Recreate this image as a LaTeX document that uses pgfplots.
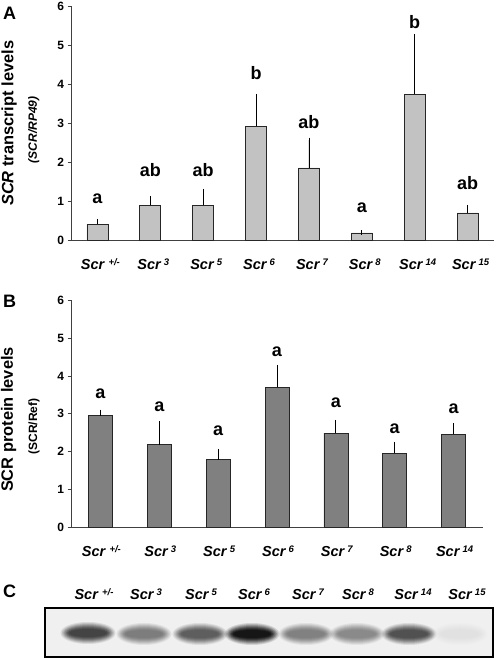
\documentclass[border=0pt]{standalone}
\usepackage{fontspec}
\setmainfont{Liberation Sans}
\usepackage{pgfplots}
\pgfplotsset{compat=1.18}
\usepackage{pgfplotstable}

\definecolor{barA}{gray}{0.76}
\definecolor{barB}{gray}{0.50}
\colorlet{bgcol}{black!6}

\newcommand\scr[1]{{\fontsize{14.5}{16}\selectfont\bfseries\itshape Scr\/\kern2.5pt\raisebox{4pt}{\fontsize{9.5}{10}\selectfont #1}}}

% Panel A: SCR transcript levels (mean, error)
\pgfplotstableread{
x y e
0 0.42 0.07
1 0.90 0.17
2 0.90 0.36
3 2.92 0.77
4 1.86 0.71
5 0.20 0.01
6 3.75 1.47
7 0.71 0.14
}\transcript
\pgfplotstableread{
x y l
0 0.94 a
1 1.64 ab
2 1.64 ab
3 4.11 b
4 2.88 ab
5 0.73 a
6 5.43 b
7 1.30 ab
}\lettersA
% Panel B: SCR protein levels
\pgfplotstableread{
x y e
0 2.95 0.09
1 2.19 0.55
2 1.79 0.22
3 3.70 0.52
4 2.49 0.28
5 1.96 0.23
6 2.46 0.23
}\protein
\pgfplotstableread{
x y l
0 3.41 a
1 3.06 a
2 2.42 a
3 4.50 a
4 3.17 a
5 2.47 a
6 3.02 a
}\lettersB
% Panel C: blot band positions and darkness (percent black)
\pgfplotstableread{
x y k
88 24 78
144 23 52
200 23 66
252 23 100
306 23 50
357 23 46
409 23 72
460 23 6
}\blot

\pgfplotsset{
  panel/.style={
    scale only axis,
    axis x line=bottom, axis y line=left,
    axis line style={-, black!75, line width=0.8pt},
    ymin=0, ymax=6, ytick={0,...,6},
    tick align=outside, major tick length=3.5pt,
    ytick style={black!75, line width=0.8pt},
    xtick style={draw=none},
    /pgf/number format/assume math mode=true,
    yticklabel style={font=\fontsize{12}{13}\selectfont\bfseries},
    clip=false,
  },
  bars/.style={ybar, bar shift=0pt, draw=black!85, line width=0.7pt,
    error bars/y dir=plus, error bars/y explicit,
    error bars/error bar style={black, line width=0.8pt},
    error bars/error mark options={black, line width=0.8pt, mark size=2.6pt}},
  letters/.style={draw=none, mark=none, nodes near coords, point meta=explicit symbolic,
    every node near coord/.style={anchor=base, inner sep=0pt, font=\fontsize{18}{20}\selectfont\bfseries}},
  bandlayer/.style n args={3}{scatter, only marks, mark=*, point meta=explicit,
    scatter/use mapped color={fill=mapped color, draw opacity=0, line width=0pt},
    mark size=#1, mark options={xscale=#2, fill opacity=#3, draw opacity=0}},
}

\begin{document}
\begin{tikzpicture}
\useasboundingbox (0,0) rectangle (498pt,660pt);

% ---------- Panel A ----------
\begin{axis}[panel,
  at={(71pt,419.3pt)}, anchor=south west,
  width=423pt, height=234.7pt,
  xmin=-0.5, xmax=7.5,
  xtick={0,...,7},
  xticklabels={\scr{\kern1pt+/-},\scr{3},\scr{5},\scr{6},\scr{7},\scr{8},\scr{14},\scr{15}},
  xticklabel style={anchor=base, yshift=-25.5pt, xshift=3pt},
  ylabel={\textit{SCR} transcript levels},
  ylabel style={font=\fontsize{16.4}{18}\selectfont\bfseries, inner sep=0pt,
    at={(axis description cs:-0.136,0.5)}, anchor=base},
]
\addplot[bars, fill=barA, bar width=21pt] table[x=x, y=y, y error=e] {\transcript};
\addplot[letters] table[x=x, y=y, meta=l] {\lettersA};
\node[rotate=90, anchor=base, inner sep=0pt, font=\fontsize{12}{13}\selectfont\bfseries\itshape]
  at (axis description cs:-0.0804,0.472) {(SCR/RP49)};
\end{axis}

% ---------- Panel B ----------
\begin{axis}[panel,
  at={(71pt,132.3pt)}, anchor=south west,
  width=412pt, height=227.7pt,
  xmin=-0.5, xmax=6.5,
  xtick={0,...,6},
  xticklabels={\scr{\kern1pt+/-},\scr{3},\scr{5},\scr{6},\scr{7},\scr{8},\scr{14}},
  xticklabel style={anchor=base, yshift=-25.5pt, xshift=1pt},
  ylabel={SCR protein levels},
  ylabel style={font=\fontsize{16.4}{18}\selectfont\bfseries, inner sep=0pt,
    at={(axis description cs:-0.1408,0.475)}, anchor=base},
]
\addplot[bars, fill=barB, bar width=24pt] table[x=x, y=y, y error=e] {\protein};
\addplot[letters] table[x=x, y=y, meta=l] {\lettersB};
\node[rotate=90, anchor=base, inner sep=0pt, font=\fontsize{12}{13}\selectfont\bfseries]
  at (axis description cs:-0.0825,0.444) {(SCR/Ref)};
\end{axis}

% ---------- Panel C (blot) ----------
\begin{axis}[
  scale only axis,
  at={(45pt,3pt)}, anchor=south west,
  width=448pt, height=49pt,
  xmin=45, xmax=493, ymin=0, ymax=49,
  axis background/.style={fill=bgcol},
  axis line style={line width=2.2pt, black},
  ytick=\empty,
  xtick={94,146,201,254,308,358,413,467},
  xticklabels={\scr{\kern1pt+/-},\scr{3},\scr{5},\scr{6},\scr{7},\scr{8},\scr{14},\scr{15}},
  xticklabel pos=top,
  xtick style={draw=none},
  xticklabel style={anchor=base, inner sep=0pt, yshift=8pt},
  colormap={blot}{color=(bgcol) color=(black)},
  point meta min=0, point meta max=100,
]
\addplot[bandlayer={11pt}{2.5}{0.12}] table[x=x, y=y, meta=k] {\blot};
\addplot[bandlayer={10pt}{2.6}{0.15}] table[x=x, y=y, meta=k] {\blot};
\addplot[bandlayer={9pt}{2.75}{0.18}] table[x=x, y=y, meta=k] {\blot};
\addplot[bandlayer={8pt}{2.95}{0.22}] table[x=x, y=y, meta=k] {\blot};
\addplot[bandlayer={7pt}{3.2}{0.26}] table[x=x, y=y, meta=k] {\blot};
\addplot[bandlayer={6pt}{3.55}{0.3}] table[x=x, y=y, meta=k] {\blot};
\addplot[bandlayer={5pt}{4.0}{0.35}] table[x=x, y=y, meta=k] {\blot};
\addplot[bandlayer={4pt}{4.7}{0.4}] table[x=x, y=y, meta=k] {\blot};
\end{axis}

% panel letters
\node[anchor=base west, inner sep=0pt, font=\fontsize{18}{20}\selectfont\bfseries] at (3pt,640pt) {A};
\node[anchor=base west, inner sep=0pt, font=\fontsize{18}{20}\selectfont\bfseries] at (3pt,352pt) {B};
\node[anchor=base west, inner sep=0pt, font=\fontsize{18}{20}\selectfont\bfseries] at (3pt,62pt) {C};
\end{tikzpicture}
\end{document}
